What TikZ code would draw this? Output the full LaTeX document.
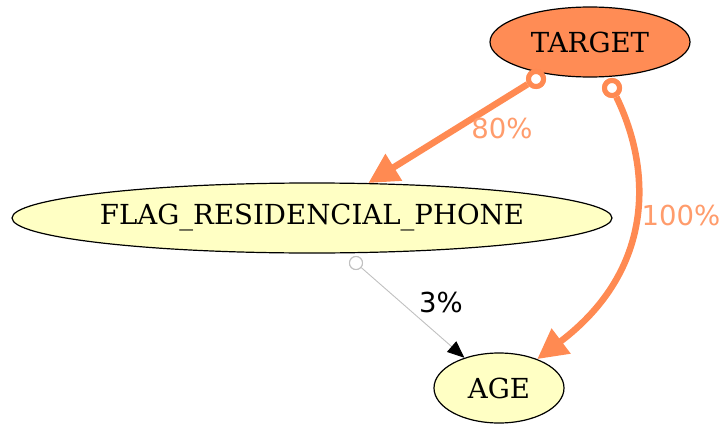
\documentclass[tikz,border=0pt]{standalone}
\usepackage{fontspec}
\setmainfont{DejaVu Serif}
\newfontfamily\labelfont{DejaVu Sans}
\usetikzlibrary{shapes.geometric,arrows.meta}
\definecolor{edgeorange}{HTML}{FF8A52}
\definecolor{nodeorange}{HTML}{FF8C55}
\definecolor{nodeyellow}{HTML}{FFFFC4}
\definecolor{thingray}{HTML}{C0C0C0}
\tikzset{
  varnode/.style={ellipse, draw=black, line width=1.2pt, inner sep=0pt,
    font=\fontsize{27.6}{32}\selectfont},
  strongedge/.style={draw=edgeorange, line width=6.5pt,
    -{Triangle[length=30pt,width=30pt]}},
  weakedge/.style={draw=thingray, line width=0.9pt,
    -{Triangle[length=17pt,width=14pt,fill=black,color=black]}},
  strongtail/.style={circle, draw=edgeorange, line width=5pt, fill=white,
    minimum size=15pt, inner sep=0pt},
  weaktail/.style={circle, draw=thingray, line width=1pt, fill=white,
    minimum size=13pt, inner sep=0pt},
  strongtag/.style={text=edgeorange!85!white, font=\labelfont\fontsize{27.5}{32}\selectfont},
  weaktag/.style={text=black, font=\labelfont\fontsize{27.5}{32}\selectfont},
}
\begin{document}
\begin{tikzpicture}[x=1pt,y=-1pt]
\useasboundingbox (0,0) rectangle (722,428);
% variable nodes
\node[varnode, fill=nodeorange, minimum width=200pt, minimum height=70pt] (target) at (590,42) {TARGET};
\node[varnode, fill=nodeyellow, minimum width=600pt, minimum height=70pt] (phone) at (312,218) {FLAG\_RESIDENCIAL\_PHONE};
\node[varnode, fill=nodeyellow, minimum width=130pt, minimum height=70pt] (age) at (499,388) {AGE};
% edge tails
\node[strongtail] (tailA) at (536,79) {};
\node[strongtail] (tailB) at (612,88) {};
\node[weaktail] (tailC) at (356,263) {};
% edges
\draw[strongedge] (tailA) -- (phone);
\draw[strongedge] (tailB) .. controls (652,170) and (655,270) .. (age);
\draw[weakedge] (tailC) -- (age);
% edge labels
\node[strongtag] (lab80) at (502,128) {80\%};
\node[strongtag] (lab100) at (681,215) {100\%};
\node[weaktag] (lab3) at (441,302) {3\%};
% redraw tails on top of edge starts
\node[strongtail] at (tailA) {};
\node[strongtail] at (tailB) {};
\node[weaktail] at (tailC) {};
\end{tikzpicture}
\end{document}
